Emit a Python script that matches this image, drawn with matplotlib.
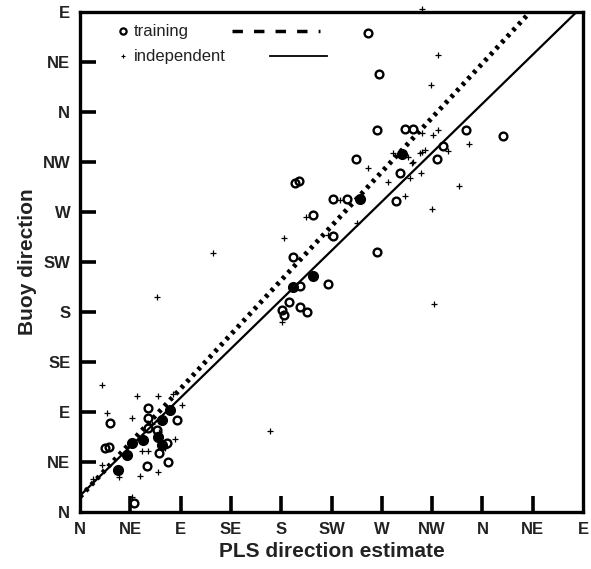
import numpy as np
import matplotlib.pyplot as plt

# direction labels, 0 = N, 450 = E (wrapped past north)
dir_ticks = [0, 45, 90, 135, 180, 225, 270, 315, 360, 405, 450]
dir_labels = ['N', 'NE', 'E', 'SE', 'S', 'SW', 'W', 'NW', 'N', 'NE', 'E']

# training samples (open circles)
train_x = [257.9, 267.5, 265.4, 290.8, 297.6, 345.3, 378.0, 325.0, 246.9, 319.1,
           286.3, 192.3, 195.9, 226.6, 239.1, 282.7, 208.2, 226.6, 190.8, 265.4,
           196.8, 222.1, 187.2, 196.8, 203.4, 180.4, 182.5,
           61.1, 26.8, 61.1, 86.5, 61.1, 68.6, 22.4, 25.9, 78.1, 70.7, 59.7, 79.0, 48.6]
train_y = [431.4, 393.9, 343.8, 344.4, 344.4, 343.8, 338.1, 329.7, 317.4, 317.4,
           304.8, 295.8, 298.2, 281.4, 281.4, 279.9, 267.3, 248.4, 229.8, 234.3,
           203.4, 204.9, 189.3, 184.2, 179.7, 181.8, 177.3,
           93.3, 79.8, 84.3, 82.8, 75.3, 73.8, 57.3, 58.8, 62.4, 53.4, 41.4, 45.3, 7.8]

# overlapping training samples (appear as filled dots)
dense_x = [287.8, 250.5, 208.2, 190.3, 80.5, 73.1, 69.8, 73.4, 46.3, 41.8, 33.7, 56.6]
dense_y = [322.2, 281.7, 212.4, 202.8, 91.8, 82.8, 67.5, 60.3, 61.8, 51.3, 37.8, 64.8]

# independent samples (small crosses)
indep_x = [19.4, 50.7, 69.5, 83.5, 91.0, 23.9, 46.3, 85.0, 55.2, 61.1, 19.4, 53.7,
           69.5, 35.2, 11.9, 46.3, 70.7, 76.0, 64.4,
           69.2, 119.3, 170.0, 182.8, 201.9, 222.1, 232.6, 247.5, 257.9, 275.3,
           280.3, 290.8, 295.2, 293.7, 296.8, 298.2, 304.8, 304.2, 305.7, 308.6,
           305.7, 316.1, 320.5, 329.5, 348.3, 339.1, 315.2, 317.0, 181.0, 320.5,
           314.0, 306.2]
indep_y = [114.3, 104.7, 104.7, 106.2, 96.3, 88.8, 84.3, 65.4, 54.9, 54.9, 42.3, 32.4,
           36.3, 31.2, 29.4, 13.8, 72.0, 57.6, 79.2,
           193.8, 232.8, 73.2, 246.9, 265.8, 249.3, 280.8, 259.8, 309.3, 297.3,
           323.4, 284.4, 300.3, 319.2, 313.8, 315.3, 305.4, 322.8, 324.3, 325.8,
           340.8, 339.3, 343.8, 324.9, 330.9, 293.7, 272.4, 187.2, 171.3, 411.3,
           384.3, 452.4]

# fitted lines: intercept, slope
train_fit = (13.5, 1.084)
indep_fit = (14.7, 0.98)

plt.rcParams['font.family'] = ['Liberation Sans', 'DejaVu Sans']

fig = plt.figure(figsize=(5.91, 5.69), dpi=100)
ax = fig.add_axes([0.1354, 0.1002, 0.8511, 0.8787])

xs = np.array([0, 450])
ax.plot(xs, train_fit[0] + train_fit[1] * xs, color='black', lw=3.5,
        linestyle=(0, (0.7, 1.0)))
ax.plot(xs, indep_fit[0] + indep_fit[1] * xs, color='black', lw=1.6)

ax.plot(indep_x, indep_y, '+', color='black', ms=4, mew=0.9, clip_on=False)
ax.plot(train_x, train_y, 'o', mfc='none', mec='black', ms=5.6, mew=1.7)
ax.plot(dense_x, dense_y, 'o', color='black', ms=7)

ax.set_xlim(0, 450)
ax.set_ylim(0, 450)
ax.set_xticks(dir_ticks)
ax.set_xticklabels(dir_labels)
ax.set_yticks(dir_ticks)
ax.set_yticklabels(dir_labels)
ax.tick_params(axis='both', length=0, labelsize=12, pad=7, labelcolor='#222222')
for lab in ax.get_xticklabels() + ax.get_yticklabels():
    lab.set_fontweight('bold')
for sp in ax.spines.values():
    sp.set_linewidth(2.4)
    sp.set_zorder(6)

# inward tick marks (thick, like the original figure)
inner = dir_ticks[1:-1]
tick_len = 14
ax.vlines(inner, 0, tick_len, colors='black', linewidth=2.6, zorder=6)
ax.hlines(inner, 0, tick_len, colors='black', linewidth=2.6, zorder=6)

ax.set_xlabel('PLS direction estimate', fontsize=15, fontweight='bold',
              color='#222222', labelpad=4)
ax.set_ylabel('Buoy direction', fontsize=15, fontweight='bold',
              color='#222222', labelpad=4)

# legend: marker, label, line sample
tr = ax.transAxes
ax.plot([0.0855], [0.962], 'o', mfc='none', mec='black', ms=4.5, mew=1.6, transform=tr)
ax.text(0.107, 0.962, 'training', transform=tr, fontsize=12, va='center', color='#222222')
ax.plot([0.302, 0.477], [0.962, 0.962], color='black', lw=2.5,
        linestyle=(0, (3, 3.2)), transform=tr)
ax.plot([0.0855], [0.912], '+', color='black', ms=3.5, mew=0.8, transform=tr)
ax.text(0.107, 0.912, 'independent', transform=tr, fontsize=12, va='center', color='#222222')
ax.plot([0.378, 0.491], [0.912, 0.912], color='black', lw=1.3, transform=tr)

fig.savefig('out.png', dpi=100)
